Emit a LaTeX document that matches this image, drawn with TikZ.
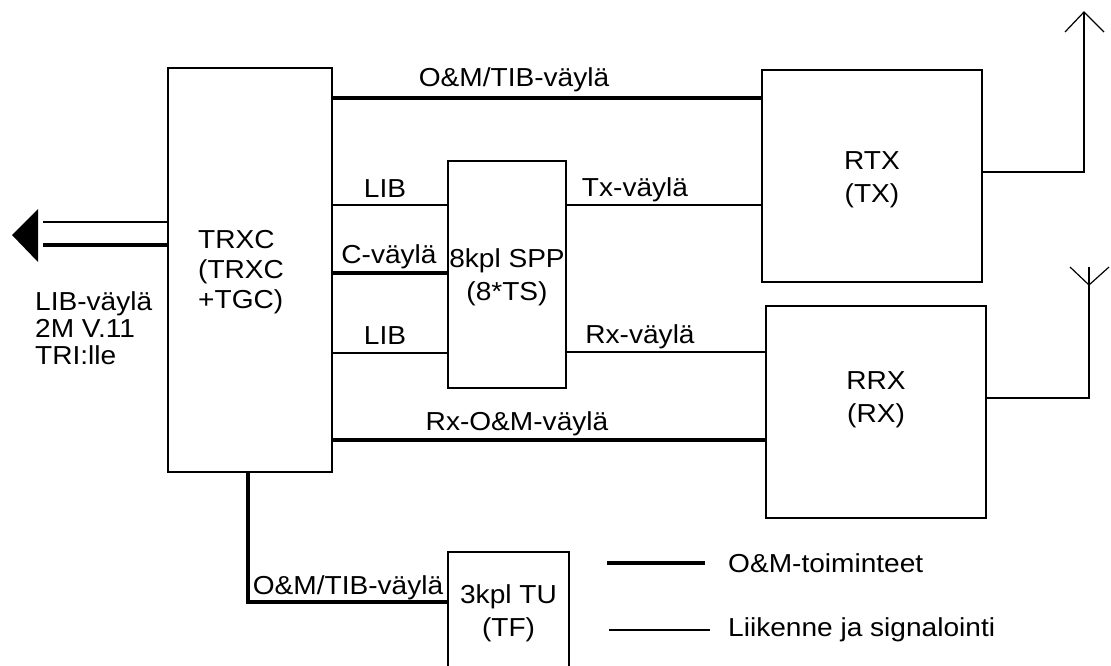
\documentclass[tikz,border=0pt]{standalone}
\usepackage{fontspec}
\setmainfont[FakeStretch=1.08]{Liberation Sans}
\begin{document}
\begin{tikzpicture}[x=1pt,y=-1pt,
  box/.style={draw,line width=1.6pt,minimum width=#1,inner sep=0pt},
  thin/.style={line width=1.6pt},
  thick/.style={line width=4pt},
  txt/.style={font=\fontsize{26}{30}\selectfont,inner sep=0pt},
  lbl/.style={font=\fontsize{26}{30}\selectfont,inner sep=0pt,anchor=base}]
\useasboundingbox (0,0) rectangle (1111,666);
\clip (0,0) rectangle (1111,666);
% boxes
\node[box=164pt,minimum height=404pt] (trxc) at (250,270) {};
\node[box=118pt,minimum height=227pt] (spp) at (507,274.5) {};
\node[box=220pt,minimum height=212pt] (rtx) at (872,176) {};
\node[box=220pt,minimum height=212pt] (rrx) at (876,412) {};
\node[box=121pt,minimum height=128pt] (tu) at (508.5,616) {};
% box texts
\node[txt,align=left,anchor=west] (trxct) at (198,272) {TRXC\\(TRXC\\+TGC)};
\node[txt,align=center] (sppt) at (507,277) {8kpl SPP\\[3pt](8*TS)};
\node[txt,align=center] (rtxt) at (872,180) {RTX\\[3pt](TX)};
\node[txt,align=center] (rrxt) at (876,400) {RRX\\[3pt](RX)};
\node[txt,align=center] (tut) at (508.5,613) {3kpl TU\\[3pt](TF)};
\node[txt,align=left,anchor=west] (libt) at (35,328) {LIB-väylä\\[-3pt]2M V.11\\[-3pt]TRI:lle};
% connector coordinates
\coordinate (a1) at (trxc.east |- 0,98);
\coordinate (b1) at (trxc.east |- 0,205);
\coordinate (c1) at (trxc.east |- 0,273);
\coordinate (d1) at (trxc.east |- 0,353);
\coordinate (e1) at (trxc.east |- 0,440);
\draw[thick] (a1) -- (rtx.west |- a1);
\draw[thin] (b1) -- (spp.west |- b1);
\draw[thick] (c1) -- (spp.west |- c1);
\draw[thin] (d1) -- (spp.west |- d1);
\draw[thick] (e1) -- (rrx.west |- e1);
\coordinate (f1) at (spp.east |- 0,205);
\coordinate (g1) at (spp.east |- 0,352);
\draw[thin] (f1) -- (rtx.west |- f1);
\draw[thin] (g1) -- (rrx.west |- g1);
% labels
\node[lbl] (la) at (514,87) {O\&M/TIB-väylä};
\node[lbl] (lb) at (385,197) {LIB};
\node[lbl] (lc) at (389,263) {C-väylä};
\node[lbl] (ld) at (385,344) {LIB};
\node[lbl] (lf) at (635,196) {Tx-väylä};
\node[lbl] (lg) at (640,343) {Rx-väylä};
\node[lbl] (le) at (517,430) {Rx-O\&M-väylä};
\node[lbl] (lh) at (348,594) {O\&M/TIB-väylä};
% TU connection
\coordinate (tu1) at (248,472);
\coordinate (tu2) at (248,602);
\draw[thick,line join=miter] (tu1) -- (tu2) -- (tu.west |- tu2);
% left arrow
\coordinate (l1) at (43,222);
\coordinate (l2) at (43,245);
\draw[thin] (trxc.west |- l1) -- (l1);
\draw[thick] (trxc.west |- l2) -- (l2);
\coordinate (tip) at (12,235);
\fill (tip) -- (38,209) -- (38,262) -- cycle;
% antenna 1
\coordinate (an1) at (1084,172);
\coordinate (an1t) at (1084,12);
\draw[thin] (rtx.east |- an1) -- (an1) -- (an1t);
\draw[line width=1.2pt] (1065,32) -- (an1t) -- (1104,32);
% antenna 2
\coordinate (an2) at (1089,398);
\coordinate (an2t) at (1089,267);
\coordinate (an2v) at (1089,285);
\draw[thin] (rrx.east |- an2) -- (an2) -- (an2t);
\draw[line width=1.2pt] (1070,267) -- (an2v) -- (1109,267);
% legend
\coordinate (k1) at (607,563);
\coordinate (k2) at (705,563);
\coordinate (k3) at (609,630);
\coordinate (k4) at (710,630);
\draw[thick] (k1) -- (k2);
\draw[thin] (k3) -- (k4);
\node[txt,anchor=west] (kt1) at (728,563) {O\&M-toiminteet};
\node[txt,anchor=west] (kt2) at (728,630) {Liikenne ja signalointi};
\end{tikzpicture}
\end{document}
